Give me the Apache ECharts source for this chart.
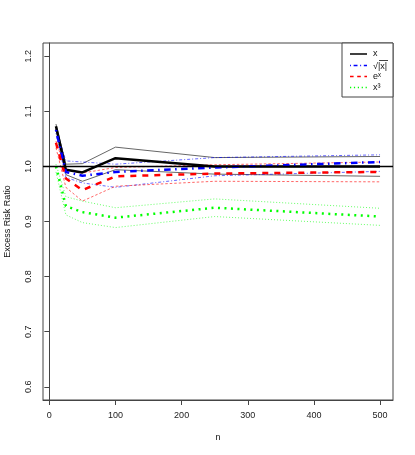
<!DOCTYPE html>
<html>
<head>
<meta charset="utf-8">
<script src="https://cdn.jsdelivr.net/npm/echarts@6/dist/echarts.min.js"></script>
<style>
  html, body { margin: 0; padding: 0; background: #fff; }
  #chart { width: 415px; height: 455px; }
</style>
</head>
<body>
<div id="chart"></div>
<script>
// sample sizes on the x axis
var nValues = [10, 25, 50, 100, 250, 500];

// x
var xMean  = [1.073, 0.994, 0.989, 1.015, 1.000, 1.000];
var xUpper = [1.077, 1.004, 1.005, 1.035, 1.016, 1.018];
var xLower = [1.068, 0.985, 0.973, 0.994, 0.986, 0.982];

// sqrt(|x|)
var sqrtMean  = [1.066, 0.990, 0.983, 0.990, 0.998, 1.008];
var sqrtUpper = [1.068, 1.010, 1.008, 1.004, 1.016, 1.021];
var sqrtLower = [1.060, 0.980, 0.970, 0.962, 0.983, 0.991];

// e^x
var expMean  = [1.043, 0.978, 0.957, 0.982, 0.987, 0.990];
var expUpper = [1.046, 0.993, 0.988, 0.998, 1.003, 1.008];
var expLower = [1.034, 0.962, 0.937, 0.964, 0.973, 0.972];

// x^3
var cubeMean  = [1.000, 0.928, 0.917, 0.907, 0.925, 0.909];
var cubeUpper = [1.004, 0.945, 0.937, 0.925, 0.941, 0.924];
var cubeLower = [0.990, 0.912, 0.898, 0.889, 0.909, 0.893];

var xTicks = [0, 100, 200, 300, 400, 500];
var yTicks = [0.6, 0.7, 0.8, 0.9, 1.0, 1.1, 1.2];
var legendNames = ['x', '√|x|', 'eˣ', 'x³'];

function pairs(arr) {
  return nValues.map(function (n, i) { return [n, arr[i]]; });
}

// one entry per curve: colour, dash for the thick line, dash for the bands
var curves = [
  { name: legendNames[0], color: '#000000', mean: xMean, up: xUpper, lo: xLower, dash: 'solid', thin: 'solid' },
  { name: legendNames[1], color: '#0000ff', mean: sqrtMean, up: sqrtUpper, lo: sqrtLower, dash: [1.5, 4.5, 6.5, 4.5], thin: [1, 2, 3, 2] },
  { name: legendNames[2], color: '#ff0000', mean: expMean, up: expUpper, lo: expLower, dash: [6, 6], thin: [2.5, 2] },
  { name: legendNames[3], color: '#00ff00', mean: cubeMean, up: cubeUpper, lo: cubeLower, dash: [2, 4.5], thin: [1, 2] }
];

var series = [];
curves.forEach(function (c, k) {
  [c.up, c.lo].forEach(function (arr, j) {
    series.push({
      name: 'band' + k + '_' + j,
      type: 'line',
      data: pairs(arr),
      symbol: 'none',
      silent: true,
      z: 2,
      lineStyle: { color: c.color, width: 1, type: c.thin, opacity: 0.6 }
    });
  });
});
curves.forEach(function (c) {
  series.push({
    name: c.name,
    type: 'line',
    data: pairs(c.mean),
    symbol: 'none',
    z: 3,
    itemStyle: { color: c.color },
    lineStyle: { color: c.color, width: 2.5, type: c.dash }
  });
});
// reference line at 1
series[0].markLine = {
  silent: true,
  symbol: 'none',
  label: { show: false },
  lineStyle: { color: '#000', width: 1.3, type: 'solid', opacity: 1 },
  data: [{ yAxis: 1 }]
};

// legend box drawn by hand so the keys keep their dash patterns
var legendGraphics = [{
  type: 'rect',
  shape: { x: 342, y: 43, width: 51, height: 54 },
  style: { fill: '#fff', stroke: '#444', lineWidth: 1 },
  z: 100
}];
var rowY = [54, 65.5, 76.5, 87.5];
curves.forEach(function (c, i) {
  legendGraphics.push({
    type: 'line',
    shape: { x1: 350, y1: rowY[i], x2: 367, y2: rowY[i] },
    style: { stroke: c.color, lineWidth: 1.5, lineDash: c.dash === 'solid' ? null : c.dash.map(function (d) { return d * 0.6; }) },
    z: 101
  });
  legendGraphics.push({
    type: 'text',
    x: 373,
    y: rowY[i] + (i === 1 ? 1 : 0),
    style: { text: c.name, fontSize: 9, fill: '#111', fontFamily: 'Liberation Sans, Arial, sans-serif', verticalAlign: 'middle' },
    z: 101
  });
});
// radical roof over |x|
legendGraphics.push({
  type: 'line',
  shape: { x1: 379, y1: 60.5, x2: 388, y2: 60.5 },
  style: { stroke: '#111', lineWidth: 0.8 },
  z: 101
});

var chart = echarts.init(document.getElementById('chart'));
chart.setOption({
  animation: false,
  backgroundColor: '#fff',
  textStyle: { fontFamily: 'Liberation Sans, Arial, sans-serif' },
  grid: {
    left: 43, top: 43, right: 22, bottom: 55,
    containLabel: false, outerBoundsMode: 'none',
    show: true, borderColor: '#444', borderWidth: 1
  },
  graphic: legendGraphics,
  xAxis: {
    type: 'value',
    min: -9.6,
    max: 519.6,
    name: 'n',
    nameLocation: 'middle',
    nameGap: 33,
    nameTextStyle: { fontSize: 9, color: '#111' },
    splitLine: { show: false },
    axisLine: { show: true, lineStyle: { color: '#444', width: 1 } },
    axisTick: { show: true, length: 5, customValues: xTicks, lineStyle: { color: '#444' } },
    axisLabel: { customValues: xTicks, fontSize: 9, color: '#222', margin: 11 }
  },
  yAxis: {
    type: 'value',
    min: 0.576,
    max: 1.224,
    name: 'Excess Risk Ratio',
    nameLocation: 'middle',
    nameGap: 31,
    nameTextStyle: { fontSize: 9, color: '#111' },
    splitLine: { show: false },
    axisLine: { show: true, lineStyle: { color: '#444', width: 1 } },
    axisTick: { show: true, length: 5, customValues: yTicks, lineStyle: { color: '#444' } },
    axisLabel: {
      customValues: yTicks,
      rotate: 90,
      fontSize: 9,
      color: '#222',
      margin: 10,
      formatter: function (v) { return v.toFixed(1); }
    }
  },
  series: series
});
</script>
</body>
</html>
